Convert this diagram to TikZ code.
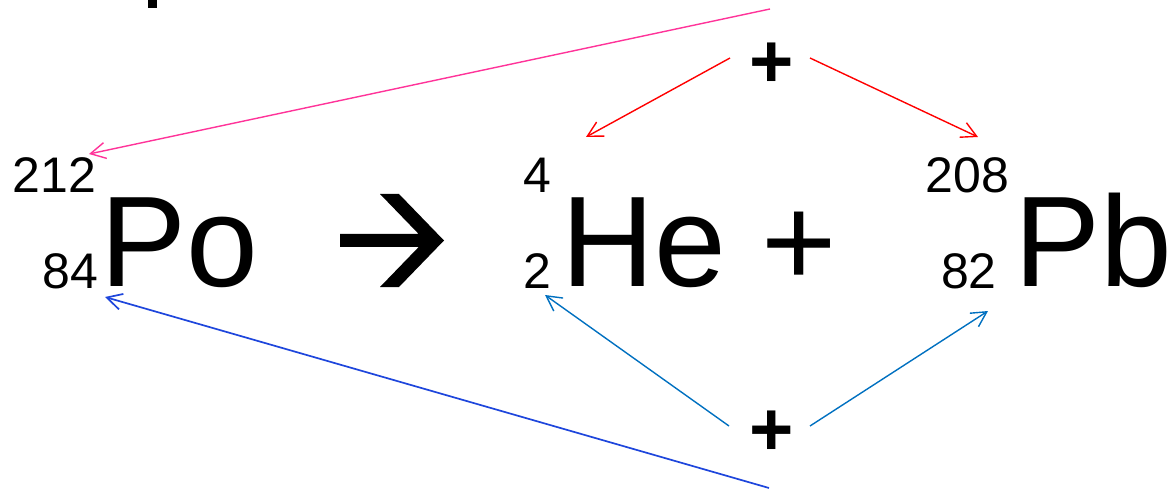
\documentclass[tikz,border=0pt]{standalone}
\usepackage{fontspec}
\setmainfont{Liberation Sans}
\usetikzlibrary{arrows.meta}
\definecolor{pinkline}{RGB}{255,51,153}
\definecolor{redline}{RGB}{255,0,0}
\definecolor{lightblueline}{RGB}{0,112,192}
\definecolor{darkblueline}{RGB}{30,70,220}
\begin{document}
\begin{tikzpicture}[x=1pt,y=-1pt,
  elem/.style={inner sep=0pt, anchor=base west, font=\fontsize{129}{129}\selectfont},
  num/.style={inner sep=0pt, font=\fontsize{50}{50}\selectfont},
  smallplus/.style={inner sep=0pt, anchor=base west, font=\fontsize{76}{76}\selectfont\bfseries},
  conn/.style={line width=1.4pt, -{Straight Barb[length=15pt,width=16pt]}}]
\useasboundingbox (0,0) rectangle (1173,489);
% cut-off fragment at top
\fill (148.3,0) rectangle (156.7,8.3);
% equation
\node[num, anchor=base west] (a212) at (12.5,193) {212};
\node[num, anchor=base east] (z84) at (98.5,288) {84};
\node[elem] (po) at (100,287) {Po};
\fill (340,234) -- (418.7,234) -- (380,194) -- (399,194) -- (444,240.5)
      -- (399,287) -- (380,287) -- (418.7,247) -- (340,247) -- cycle;
\node[num, anchor=base west] (a4) at (523.5,193) {4};
\node[num, anchor=base west] (z2) at (523,288) {2};
\node[elem] (he) at (561,287) {He};
\node[elem] (plus) at (761,287) {+};
\node[num, anchor=base west] (a208) at (925.5,193) {208};
\node[num, anchor=base east] (z82) at (997,288) {82};
\node[elem] (pb) at (1014,287) {Pb};
% small pluses
\node[smallplus] (ptop) at (749.5,87.5) {+};
\node[smallplus] (pbot) at (749.5,455.5) {+};
% connector end points
\coordinate (pinkS) at (770,9);
\coordinate (pinkE) at (89,154);
\coordinate (redLS) at (730,58);
\coordinate (redLE) at (586,137);
\coordinate (redRS) at (810,58);
\coordinate (redRE) at (978,137);
\coordinate (lbLS) at (729,426);
\coordinate (lbLE) at (545,295);
\coordinate (lbRS) at (810,426);
\coordinate (lbRE) at (988,311);
\coordinate (dbS) at (769,488);
\coordinate (dbE) at (105,297);
% connectors
\draw[conn, pinkline] (pinkS) -- (pinkE);
\draw[conn, redline] (redLS) -- (redLE);
\draw[conn, redline] (redRS) -- (redRE);
\draw[conn, lightblueline] (lbLS) -- (lbLE);
\draw[conn, lightblueline] (lbRS) -- (lbRE);
\draw[conn, darkblueline, line width=1.7pt] (dbS) -- (dbE);
\end{tikzpicture}
\end{document}
